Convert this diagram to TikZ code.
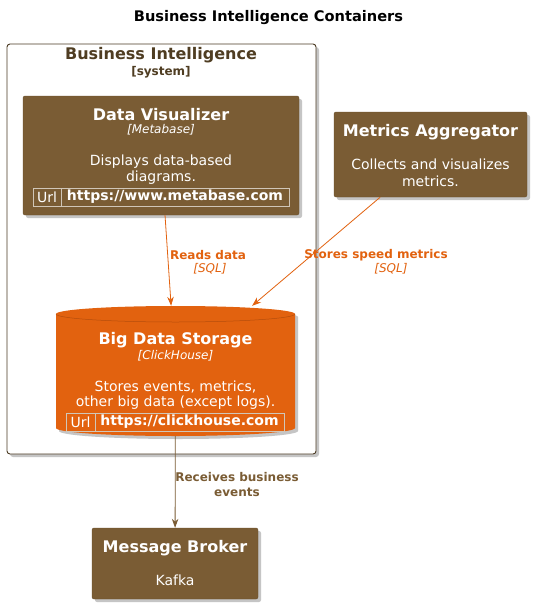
\documentclass[tikz,border=0pt]{standalone}
\usepackage{fontspec}
\setmainfont{DejaVu Sans}
\usetikzlibrary{arrows.meta,shadows}
\definecolor{cbrown}{HTML}{7A5C34}
\definecolor{corange}{HTML}{E2620F}
\definecolor{bcol}{HTML}{4A3A22}
\definecolor{btext}{HTML}{4F3D22}
\tikzset{
  shd/.style={drop shadow={shadow xshift=3pt, shadow yshift=-3pt, fill=black!45, opacity=.5}},
  box/.style={rectangle, rounded corners=2pt, fill=cbrown, draw=cbrown!85!black, line width=0.4pt, inner sep=0pt, shd},
  ttl/.style={font=\fontsize{16}{19}\selectfont\bfseries, text=white, inner sep=0pt},
  tech/.style={font=\fontsize{12}{14}\selectfont\itshape, text=white, inner sep=0pt},
  desc/.style={font=\fontsize{14}{17}\selectfont, text=white, inner sep=0pt},
  urlb/.style={font=\fontsize{14}{17}\selectfont\bfseries, text=white, inner sep=0pt},
  urlline/.style={draw=white!65!cbrown, line width=0.6pt},
  oarrow/.style={draw=corange, line width=0.8pt, -{Stealth[length=9pt,width=6.5pt]}},
  barrow/.style={draw=cbrown, line width=0.8pt, -{Stealth[length=9pt,width=6.5pt]}},
  olab/.style={font=\fontsize{12}{14}\selectfont\bfseries, text=corange, inner sep=0pt},
  olabi/.style={font=\fontsize{12}{14}\selectfont\itshape, text=corange, inner sep=0pt},
  blab/.style={font=\fontsize{12}{14}\selectfont\bfseries, text=cbrown, inner sep=0pt},
}
\begin{document}
\begin{tikzpicture}[x=1pt,y=-1pt]
\useasboundingbox[fill=white] (0,0) rectangle (540,610);

% title
\node[font=\fontsize{14.6}{17}\selectfont\bfseries, inner sep=0pt] (title) at (268.5,18) {Business Intelligence Containers};

% system boundary
\node[rectangle, rounded corners=3pt, draw=bcol, line width=0.9pt, fill=white, minimum width=309pt, minimum height=410pt, inner sep=0pt, shd] (bi) at (161.5,249) {};
\node[font=\fontsize{16}{19}\selectfont\bfseries, text=btext, inner sep=0pt] (bititle) at (161,55) {Business Intelligence};
\node[font=\fontsize{12}{14}\selectfont\bfseries, text=btext, inner sep=0pt] (bisys) at (161,72) {[system]};

% Data Visualizer
\node[box, minimum width=276pt, minimum height=119pt] (dv) at (161,155.5) {};
\node[ttl] (dvt) at (161,115) {Data Visualizer};
\node[tech] (dvk) at (161,130) {[Metabase]};
\node[desc] (dvd1) at (161,162) {Displays data-based};
\node[desc] (dvd2) at (161,178) {diagrams.};
\draw[urlline] (33,188) rectangle (289,206);
\draw[urlline] (61,188) -- (61,206);
\node[desc] (dvu1) at (47,197) {Url};
\node[urlb] (dvu2) at (175,197) {https://www.metabase.com};

% Metrics Aggregator
\node[box, minimum width=193pt, minimum height=85pt] (ma) at (430.5,154.5) {};
\node[ttl] (mat) at (430.5,132) {Metrics Aggregator};
\node[desc] (mad1) at (430.5,164) {Collects and visualizes};
\node[desc] (mad2) at (430.5,181) {metrics.};

% Big Data Storage cylinder
\fill[corange, shd] (56,314) -- (56,428) arc[start angle=180, end angle=0, x radius=119.5, y radius=8] -- (295,314) arc[start angle=360, end angle=180, x radius=119.5, y radius=8] -- cycle;
\draw[corange!80!black, line width=0.5pt] (56,314) arc[start angle=180, end angle=0, x radius=119.5, y radius=8];
\node[rectangle, minimum width=239pt, minimum height=130pt, inner sep=0pt] (bds) at (175.5,371) {};
\node[ttl] (bdst) at (175.5,340) {Big Data Storage};
\node[tech] (bdsk) at (175.5,356) {[ClickHouse]};
\node[desc] (bdsd1) at (175.5,387) {Stores events, metrics,};
\node[desc] (bdsd2) at (175.5,403) {other big data (except logs).};
\draw[urlline] (66,413) rectangle (284,431);
\draw[urlline] (95,413) -- (95,431);
\node[desc] (bdsu1) at (80.5,422) {Url};
\node[urlb] (bdsu2) at (189.5,422) {https://clickhouse.com};

% Message Broker
\node[box, minimum width=166pt, minimum height=71pt] (mb) at (175,563.5) {};
\node[ttl] (mbt) at (175,548) {Message Broker};
\node[desc] (mbd) at (175,580) {Kafka};

% connectors
\draw[oarrow] (dv) -- (bds);
\node[olab] (l1a) at (208,255) {Reads data};
\node[olabi] (l1b) at (210,269) {[SQL]};
\draw[oarrow] (ma) -- (bds);
\node[olab] (l2a) at (376,255) {Stores speed metrics};
\node[olabi] (l2b) at (391,269) {[SQL]};
\draw[barrow] (bds) -- (mb);
\node[blab] (l3a) at (237,477) {Receives business};
\node[blab] (l3b) at (237,492) {events};
\end{tikzpicture}
\end{document}
